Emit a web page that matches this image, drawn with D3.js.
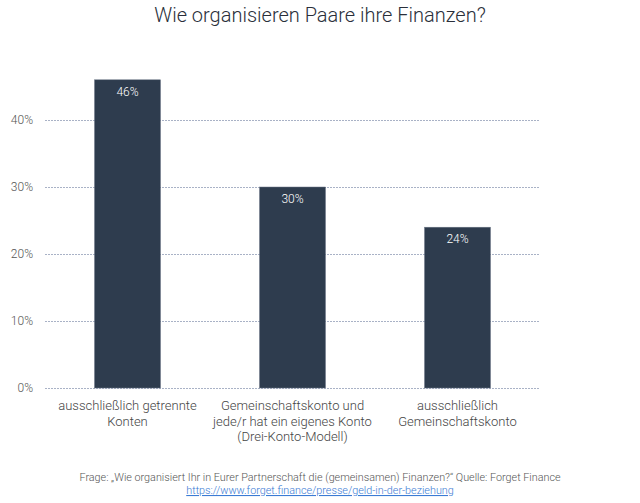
<!DOCTYPE html>
<html><head><meta charset="utf-8">
<script src="https://cdn.jsdelivr.net/npm/d3@7"></script>
<style>
body{margin:0;background:#fff;}
svg{display:block;font-family:Roboto,"Noto Sans",sans-serif;}
</style></head><body>
<svg id="c" width="640" height="503"></svg>
<script>
const categories = [["ausschließlich getrennte","Konten"],["Gemeinschaftskonto und","jede/r hat ein eigenes Konto","(Drei-Konto-Modell)"],["ausschließlich","Gemeinschaftskonto"]];
const values = [46, 30, 24];
const yTicks = [0, 10, 20, 30, 40];

const svg = d3.select("#c");
const x = d3.scaleBand().domain(d3.range(categories.length)).range([45, 540]).paddingInner(0.6).paddingOuter(0.3);
const y = d3.scaleLinear().domain([0, 40]).range([388, 120]);

svg.append("text").attr("x", 320).attr("y", 22).attr("text-anchor", "middle")
  .attr("font-size", 20).attr("font-weight", 300).attr("fill", "#2a2f3a").text("Wie organisieren Paare ihre Finanzen?");

const grid = svg.append("g");
yTicks.forEach(t => {
  grid.append("line").attr("x1", 45).attr("x2", 540).attr("y1", y(t)+0.5).attr("y2", y(t)+0.5)
    .attr("stroke", "#a9b2c6").attr("stroke-dasharray", "2,1").attr("stroke-width", 1);
});

const yAxis = d3.axisLeft(y).tickValues(yTicks).tickSize(0).tickPadding(0).tickFormat(d => d + "%");
svg.append("g").attr("transform", "translate(33,0)").call(yAxis)
  .call(g => g.select(".domain").remove())
  .call(g => g.selectAll("text").attr("font-size", 12).attr("font-weight", 300).attr("fill", "#555").attr("font-family", "Roboto"));

svg.selectAll("rect.bar").data(values).join("rect").attr("class", "bar")
  .attr("x", (d, i) => x(i)).attr("width", x.bandwidth())
  .attr("y", d => y(d)).attr("height", d => y(0) - y(d))
  .attr("fill", "#2e3c4e").attr("stroke", "#6b7586").attr("stroke-width", 0.5);

svg.selectAll("text.val").data(values).join("text").attr("class", "val")
  .attr("x", (d, i) => x(i) + x.bandwidth() / 2).attr("y", d => y(d) + 16)
  .attr("text-anchor", "middle").attr("font-size", 12).attr("font-weight", 300).attr("fill", "#fff").text(d => d + "%");

categories.forEach((lines, i) => {
  const t = svg.append("text").attr("text-anchor", "middle").attr("font-size", 13).attr("font-weight", 300).attr("fill", "#444");
  lines.forEach((l, j) => t.append("tspan").attr("x", x(i) + x.bandwidth() / 2).attr("y", 410 + j * 15.5).text(l));
});

svg.append("text").attr("x", 320).attr("y", 481).attr("text-anchor", "middle").attr("font-size", 10.8).attr("font-weight", 300).attr("fill", "#555")
  .text("Frage: „Wie organisiert Ihr in Eurer Partnerschaft die (gemeinsamen) Finanzen?“ Quelle: Forget Finance");
svg.append("text").attr("x", 320).attr("y", 494).attr("text-anchor", "middle").attr("font-size", 10.8).attr("font-weight", 300).attr("fill", "#3b7bd4")
  .attr("text-decoration", "underline").text("https://www.forget.finance/presse/geld-in-der-beziehung");
</script></body></html>
